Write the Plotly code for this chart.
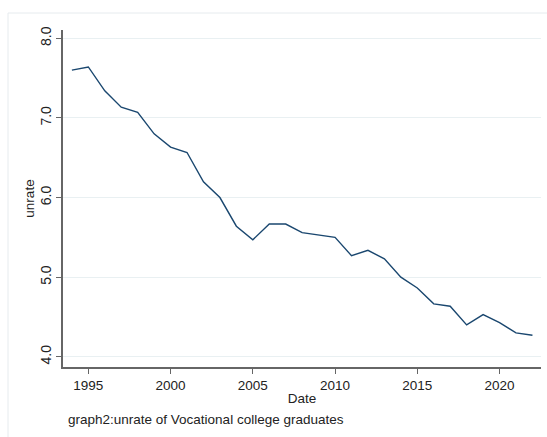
import plotly.graph_objects as go

years = list(range(1994, 2023))
unrate = [7.60, 7.64, 7.34, 7.135, 7.07, 6.80, 6.633, 6.566, 6.198, 6.00,
          5.64, 5.47, 5.667, 5.667, 5.56, 5.53, 5.50, 5.27, 5.337, 5.23,
          5.00, 4.865, 4.665, 4.635, 4.40, 4.53, 4.43, 4.30, 4.27]
x_ticks = [1995, 2000, 2005, 2010, 2015, 2020]
y_ticks = [4.0, 5.0, 6.0, 7.0, 8.0]
y_tick_labels = ["4.0", "5.0", "6.0", "7.0", "8.0"]
caption = "graph2:unrate of Vocational college graduates"

FONT = "Liberation Sans, Arial, sans-serif"
AXIS_COL = "#666666"

fig = go.Figure()
fig.add_trace(go.Scatter(x=years, y=unrate, mode="lines",
                         line=dict(color="#1a476f", width=1.4),
                         showlegend=False, hoverinfo="skip"))

fig.update_layout(
    width=547, height=437,
    margin=dict(l=63, r=6, t=30, b=70, autoexpand=False),
    paper_bgcolor="white", plot_bgcolor="white",
    font=dict(family=FONT, size=13.5, color="#222222"),
    xaxis=dict(range=[1993.46, 2022.52], tickvals=x_ticks,
               showgrid=False, zeroline=False,
               showline=True, linecolor=AXIS_COL, linewidth=1.5,
               ticks="outside", ticklen=5, tickcolor=AXIS_COL, tickwidth=1,
               tickfont=dict(size=13.5, color="#222222"),
               title=dict(text="Date", standoff=2, font=dict(size=13.5))),
    yaxis=dict(range=[3.872, 8.104], tickvals=y_ticks, ticktext=y_tick_labels,
               tickangle=-90,
               showgrid=True, gridcolor="#e9f0f2", gridwidth=1,
               zeroline=False,
               showline=True, linecolor=AXIS_COL, linewidth=1.5,
               ticks="outside", ticklen=5, tickcolor=AXIS_COL, tickwidth=1,
               tickfont=dict(size=14, color="#222222"),
               title=dict(text="unrate", standoff=0, font=dict(size=13.5))),
)

# faint outer frame of the graph region
fig.add_shape(type="rect", xref="paper", yref="paper",
              x0=-0.115, x1=1.05, y0=-0.4, y1=1.0504,
              line=dict(color="#e6ebee", width=1), fillcolor="rgba(0,0,0,0)",
              layer="below")

fig.add_annotation(text=caption, xref="paper", yref="paper",
                   x=0.006, y=-0.155, xanchor="left", yanchor="middle",
                   showarrow=False, font=dict(size=13.5, color="#222222"))

fig.write_html("out.html")
